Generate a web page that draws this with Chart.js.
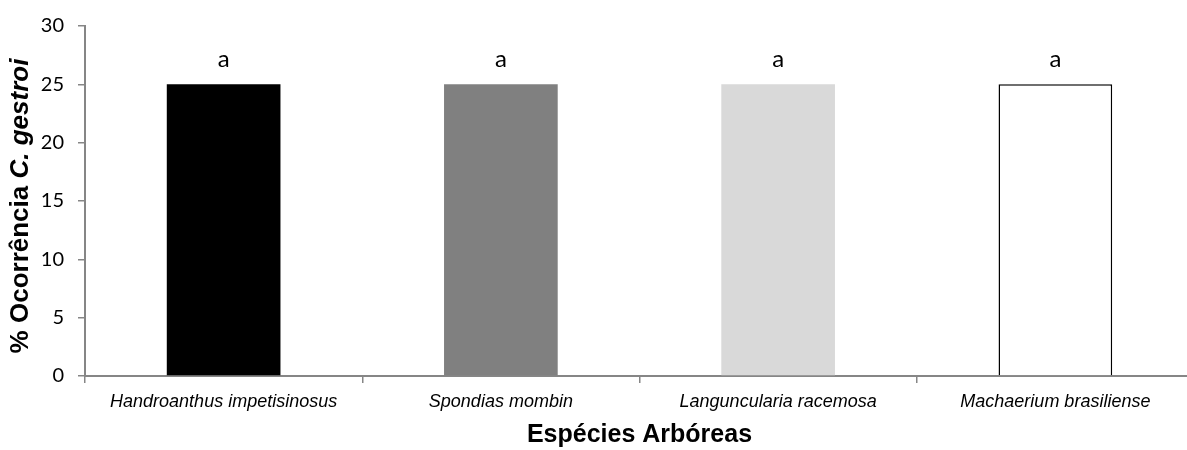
<!DOCTYPE html>
<html>
<head>
<meta charset="utf-8">
<script src="https://cdn.jsdelivr.net/npm/chart.js@4"></script>
<style>
  html, body { margin: 0; padding: 0; background: #fff; overflow: hidden; }
  #chart { display: block; }
</style>
</head>
<body>
<canvas id="chart" width="1194" height="450"></canvas>
<script>
// data
var categories = ['Handroanthus impetisinosus', 'Spondias mombin', 'Languncularia racemosa', 'Machaerium brasiliense'];
var occurrence = [25, 25, 25, 25];
var letters = ['a', 'a', 'a', 'a'];
var barColors = ['#000000', '#808080', '#d9d9d9', '#ffffff'];
var yMin = 0, yMax = 30, yStep = 5;

var axisColor = '#868686';

// the "a" letters over each bar
var letterPlugin = {
  id: 'letters',
  afterDatasetsDraw: function(chart) {
    var ctx = chart.ctx;
    var meta = chart.getDatasetMeta(0);
    ctx.save();
    ctx.font = '24px Lato';
    ctx.fillStyle = '#000';
    ctx.textAlign = 'center';
    ctx.textBaseline = 'middle';
    meta.data.forEach(function(bar, i) {
      ctx.fillText(letters[i], bar.x, bar.y - 25);
    });
    ctx.restore();
  }
};

// y title has a bold and a bold italic part, so draw it by hand
var yTitlePlugin = {
  id: 'yTitle',
  afterDraw: function(chart) {
    var ctx = chart.ctx;
    var area = chart.chartArea;
    var part1 = '% Ocorrência ';
    var part2 = 'C. gestroi';
    var f1 = 'bold 26px "Liberation Sans", Arial';
    var f2 = 'italic bold 26px "Liberation Sans", Arial';
    ctx.save();
    ctx.font = f1;
    var w1 = ctx.measureText(part1).width;
    ctx.font = f2;
    var w2 = ctx.measureText(part2).width;
    var total = w1 + w2;
    ctx.translate(21, (area.top + area.bottom) / 2 + 5);
    ctx.rotate(-Math.PI / 2);
    ctx.fillStyle = '#000';
    ctx.textBaseline = 'middle';
    ctx.textAlign = 'left';
    ctx.font = f1;
    ctx.fillText(part1, -total / 2, 0);
    ctx.font = f2;
    ctx.fillText(part2, -total / 2 + w1, 0);
    ctx.restore();
  }
};

var chart = new Chart(document.getElementById('chart'), {
  type: 'bar',
  data: {
    labels: categories,
    datasets: [{
      data: occurrence,
      backgroundColor: barColors,
      borderColor: ['#000', '#808080', '#d9d9d9', '#000'],
      borderWidth: [0, 0, 0, 1.5],
      borderSkipped: 'bottom',
      categoryPercentage: 1,
      barPercentage: 0.41
    }]
  },
  options: {
    responsive: false,
    animation: false,
    layout: { padding: { top: 21, left: 0, right: 0, bottom: 0 } },
    plugins: {
      legend: { display: false },
      tooltip: { enabled: false }
    },
    scales: {
      x: {
        afterFit: function(scale) { scale.height = 74; },
        grid: {
          offset: true,
          drawOnChartArea: false,
          tickLength: 7,
          color: axisColor,
          lineWidth: 1.5
        },
        border: { color: axisColor, width: 2 },
        ticks: {
          padding: 8,
          color: '#000',
          font: { family: '"Liberation Sans", Arial', size: 18, style: 'italic' }
        },
        title: {
          display: true,
          text: 'Espécies Arbóreas',
          color: '#000',
          padding: { top: 0, bottom: 0 },
          font: { family: '"Liberation Sans", Arial', size: 25, weight: 'bold' }
        }
      },
      y: {
        min: yMin,
        max: yMax,
        afterFit: function(scale) { scale.width = 85; },
        grid: {
          drawOnChartArea: false,
          tickLength: 7,
          color: axisColor,
          lineWidth: 1.5
        },
        border: { color: axisColor, width: 2 },
        ticks: {
          stepSize: yStep,
          padding: 14,
          color: '#000',
          font: { family: 'Lato', size: 20 }
        }
      }
    }
  },
  plugins: [letterPlugin, yTitlePlugin]
});
</script>
</body>
</html>
